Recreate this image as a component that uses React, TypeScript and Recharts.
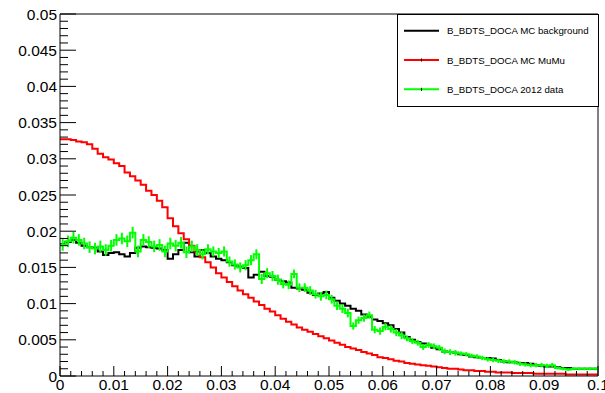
import {
  ComposedChart,
  ErrorBar,
  Legend,
  Line,
  ReferenceLine,
  Scatter,
  XAxis,
  YAxis,
} from 'recharts'

const BIN_WIDTH = 0.001

// MC MuMu, one value per bin (100 bins from 0 to 0.1)
const mcMuMu = [
  0.0327, 0.0327, 0.0326, 0.0324, 0.0323, 0.032, 0.0314, 0.0307, 0.0302, 0.0299,
  0.0294, 0.029, 0.0281, 0.0276, 0.027, 0.0264, 0.0256, 0.025, 0.0242, 0.0233,
  0.0218, 0.0207, 0.0197, 0.0189, 0.018, 0.0172, 0.0164, 0.0157, 0.015, 0.0142,
  0.0136, 0.013, 0.0124, 0.0118, 0.0113, 0.0108, 0.0103, 0.0098, 0.0093, 0.0089,
  0.0084, 0.0079, 0.0075, 0.0071, 0.0067, 0.0064, 0.0061, 0.0058, 0.0055, 0.0052,
  0.0049, 0.0046, 0.0043, 0.004, 0.0038, 0.0036, 0.0033, 0.0031, 0.0029, 0.0026,
  0.0025, 0.0023, 0.0021, 0.002, 0.0018, 0.0017, 0.0016, 0.0015, 0.0014, 0.0013,
  0.0012, 0.0011, 0.001, 0.001, 0.0009, 0.0008, 0.0008, 0.0007, 0.0007, 0.0006,
  0.0006, 0.0005, 0.0005, 0.0005, 0.0004, 0.0004, 0.0004, 0.0004, 0.0003, 0.0003,
  0.0003, 0.0003, 0.0003, 0.0003, 0.0002, 0.0002, 0.0002, 0.0002, 0.0002, 0.0002,
]

// MC background
const mcBackground = [
  0.0182, 0.0185, 0.0188, 0.0184, 0.018, 0.0178, 0.0177, 0.0172, 0.0167, 0.017,
  0.0171, 0.0168, 0.0165, 0.017, 0.0177, 0.0179, 0.0178, 0.0177, 0.0176, 0.0174,
  0.0162, 0.0168, 0.0174, 0.0184, 0.0171, 0.0165, 0.0174, 0.017, 0.0165, 0.0162,
  0.016, 0.0157, 0.0153, 0.0151, 0.0149, 0.0136, 0.014, 0.0144, 0.0138, 0.0137,
  0.0133, 0.0131, 0.0129, 0.0122, 0.0121, 0.0119, 0.0115, 0.0112, 0.0114, 0.0116,
  0.0108, 0.0104, 0.01, 0.0097, 0.0093, 0.009, 0.0085, 0.0082, 0.0078, 0.0076,
  0.0073, 0.007, 0.0065, 0.006, 0.0054, 0.005, 0.0047, 0.0045, 0.0043, 0.0039,
  0.0037, 0.0034, 0.0033, 0.0032, 0.003, 0.0029, 0.0027, 0.0026, 0.0025, 0.0025,
  0.0024, 0.0022, 0.002, 0.0019, 0.0019, 0.0018, 0.0018, 0.0017, 0.0015, 0.0014,
  0.0013, 0.0013, 0.0012, 0.0011, 0.0011, 0.001, 0.001, 0.001, 0.001, 0.001,
]

// 2012 data
const data2012 = [
  0.0181, 0.0186, 0.0191, 0.0188, 0.0183, 0.0178, 0.0176, 0.0179, 0.0174, 0.018,
  0.0188, 0.019, 0.0186, 0.0198, 0.0172, 0.0188, 0.0185, 0.0179, 0.0181, 0.0172,
  0.0183, 0.018, 0.0184, 0.0171, 0.0179, 0.0174, 0.0168, 0.0175, 0.0172, 0.017,
  0.0172, 0.0158, 0.0154, 0.015, 0.0153, 0.016, 0.0168, 0.0134, 0.0142, 0.0138,
  0.0133, 0.0127, 0.0126, 0.0141, 0.0122, 0.0122, 0.0118, 0.0113, 0.011, 0.0112,
  0.0106, 0.0097, 0.0093, 0.0087, 0.0069, 0.0077, 0.008, 0.0084, 0.0064, 0.0062,
  0.0068, 0.0065, 0.006, 0.0056, 0.0052, 0.0048, 0.0046, 0.004, 0.0043, 0.0041,
  0.0039, 0.0034, 0.0033, 0.0032, 0.0031, 0.003, 0.0028, 0.0027, 0.0025, 0.0023,
  0.0022, 0.0021, 0.002, 0.002, 0.0019, 0.0017, 0.0016, 0.0015, 0.0015, 0.0015,
  0.0014, 0.0015, 0.0011, 0.001, 0.0009, 0.001, 0.001, 0.001, 0.001, 0.001,
]

// statistical error on the 2012 data, in units of 1e-4
const data2012Err = [
  8, 8, 8, 8, 8, 8, 8, 8, 8, 8,
  8, 8, 8, 8, 8, 8, 8, 8, 8, 8,
  8, 8, 8, 8, 8, 8, 7, 7, 7, 7,
  7, 7, 7, 7, 7, 7, 7, 7, 7, 7,
  7, 6, 6, 6, 6, 6, 6, 6, 6, 6,
  6, 6, 6, 6, 5, 5, 5, 5, 5, 5,
  5, 5, 5, 5, 4, 4, 4, 4, 4, 4,
  4, 4, 4, 4, 3, 3, 3, 3, 3, 3,
  3, 3, 3, 3, 3, 3, 3, 3, 3, 3,
  3, 3, 2, 2, 2, 2, 2, 2, 2, 2,
]

const legendLabels = [
  'B_BDTS_DOCA MC background',
  'B_BDTS_DOCA MC MuMu',
  'B_BDTS_DOCA 2012 data',
]
const seriesColors = ['#000000', '#ff0000', '#00ff00']

const X_MAJOR = 0.01
const Y_MAJOR = 0.005
const xTicks = Array.from({ length: 51 }, (_, i) => +(i * 0.002).toFixed(3))
const yTicks = Array.from({ length: 51 }, (_, i) => +(i * 0.001).toFixed(3))

// step histogram: one point per low edge, plus the closing edge
const histData = Array.from({ length: mcMuMu.length + 1 }, (_, i) => {
  const k = Math.min(i, mcMuMu.length - 1)
  return {
    x: +(i * BIN_WIDTH).toFixed(4),
    bkg: mcBackground[k],
    mumu: mcMuMu[k],
    data: data2012[k],
  }
})

const errData = data2012.map((v, i) => ({
  x: (i + 0.5) * BIN_WIDTH,
  data: v,
  err: data2012Err[i] * 1e-4,
}))

const FONT = '"Liberation Sans", Arial, Helvetica, sans-serif'

const isMajor = (v: number, step: number) =>
  Math.abs(v / step - Math.round(v / step)) < 1e-6

const fmt = (v: number) => String(+v.toFixed(4))

function XTick(props: any) {
  const { x, y, payload } = props
  const major = isMajor(payload.value, X_MAJOR)
  return (
    <g>
      <line x1={x} y1={y} x2={x} y2={y - (major ? 10 : 5)} stroke="#000" strokeWidth={1} />
      {major && (
        <text x={x} y={y + 14} textAnchor="middle" fontSize={15.5} fontFamily={FONT} fill="#000">
          {fmt(payload.value)}
        </text>
      )}
    </g>
  )
}

function YTick(props: any) {
  const { x, y, payload } = props
  const major = isMajor(payload.value, Y_MAJOR)
  return (
    <g>
      <line x1={x} y1={y} x2={x + (major ? 16 : 8)} y2={y} stroke="#000" strokeWidth={1} />
      {major && (
        <text x={x - 3} y={y + 5.5} textAnchor="end" fontSize={15.5} fontFamily={FONT} fill="#000">
          {fmt(payload.value)}
        </text>
      )}
    </g>
  )
}

function HistLegend() {
  const rows = [16.7, 46, 75.3]
  return (
    <svg width={202} height={93} style={{ display: 'block' }}>
      <rect x={0.5} y={0.5} width={201} height={92} fill="#fff" stroke="#000" strokeWidth={1} />
      {legendLabels.map((label, i) => (
        <g key={label}>
          <line x1={7} y1={rows[i]} x2={42} y2={rows[i]} stroke={seriesColors[i]} strokeWidth={2} />
          {i > 0 && (
            <line x1={24.5} y1={rows[i] - 1.5} x2={24.5} y2={rows[i] + 1.5} stroke="#000" strokeWidth={1} />
          )}
          <text x={50} y={rows[i] + 3.5} fontSize={9.7} fontFamily={FONT} fill="#000">
            {label}
          </text>
        </g>
      ))}
    </svg>
  )
}

export default function App() {
  return (
    <div style={{ position: 'absolute', left: 0, top: 0, width: 605, height: 393, background: '#fff' }}>
      <ComposedChart
        width={605}
        height={393}
        data={histData}
        margin={{ top: 14, right: 7, bottom: 0, left: 0 }}
      >
        <XAxis
          dataKey="x"
          type="number"
          domain={[0, 0.1]}
          ticks={xTicks}
          interval={0}
          allowDataOverflow
          height={17}
          tickSize={0}
          tickMargin={0}
          tickLine={false}
          axisLine={{ stroke: '#000' }}
          tick={<XTick />}
        />
        <YAxis
          type="number"
          domain={[0, 0.05]}
          ticks={yTicks}
          interval={0}
          allowDataOverflow
          width={60}
          tickSize={0}
          tickMargin={0}
          tickLine={false}
          axisLine={{ stroke: '#000' }}
          tick={<YTick />}
        />
        <ReferenceLine y={0.05} stroke="#000" strokeWidth={1} />
        <ReferenceLine x={0.1} stroke="#000" strokeWidth={1} />
        <Line
          dataKey="bkg"
          type="stepAfter"
          stroke="#000000"
          strokeWidth={2}
          dot={false}
          isAnimationActive={false}
        />
        <Line
          dataKey="mumu"
          type="stepAfter"
          stroke="#ff0000"
          strokeWidth={2}
          dot={false}
          isAnimationActive={false}
        />
        <Line
          dataKey="data"
          type="stepAfter"
          stroke="#00ff00"
          strokeWidth={2}
          dot={false}
          isAnimationActive={false}
        />
        <Scatter
          data={errData}
          dataKey="data"
          shape={() => <g />}
          isAnimationActive={false}
        >
          <ErrorBar dataKey="err" direction="y" width={0} stroke="#00ff00" strokeWidth={2} />
        </Scatter>
        <Legend
          layout="vertical"
          align="center"
          verticalAlign="middle"
          content={() => <HistLegend />}
          wrapperStyle={{ position: 'absolute', left: 397, top: 14, width: 202, height: 93 }}
        />
      </ComposedChart>
    </div>
  )
}
